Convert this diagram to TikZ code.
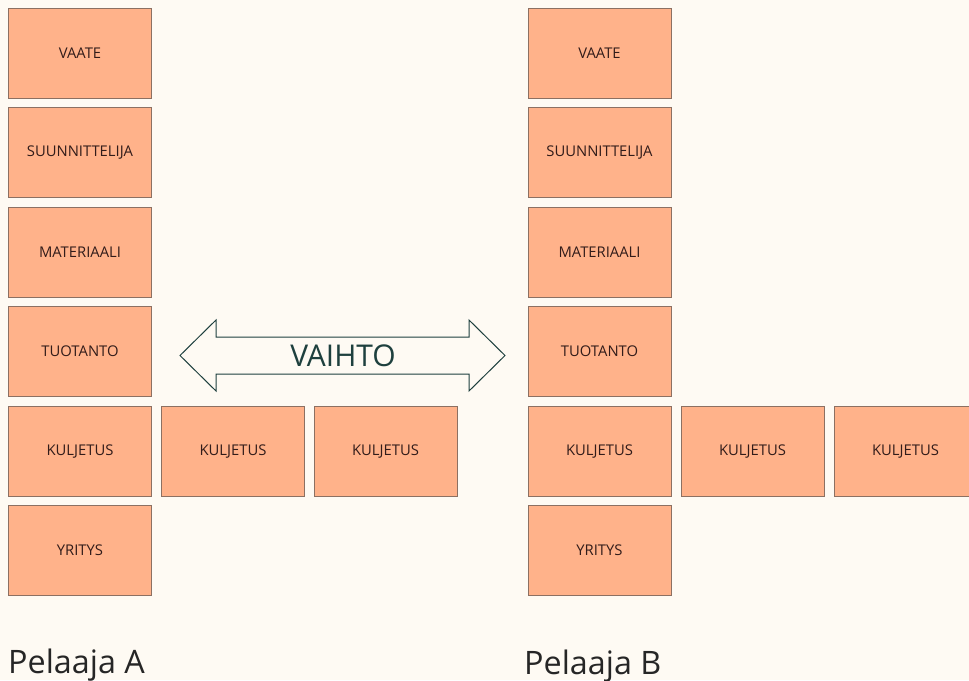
\documentclass[tikz,border=0pt]{standalone}
\usepackage{fontspec}
\setmainfont{Open Sans}
\usepackage{tikz}

\definecolor{tausta}{RGB}{254,250,243}
\definecolor{kortti}{RGB}{255,178,138}
\definecolor{reuna}{RGB}{140,112,98}
\definecolor{teksti}{RGB}{50,28,26}
\definecolor{nuoli}{RGB}{30,64,62}

\tikzset{
  korttibox/.style={draw=reuna, line width=0.9pt, fill=kortti,
    minimum width=143pt, minimum height=90pt, inner sep=0pt,
    text=teksti, font=\fontsize{14.8}{17}\selectfont},
  pelaaja/.style={anchor=base west, inner sep=0pt, text=black!85,
    font=\fontsize{32.3}{36}\selectfont}
}

\begin{document}
\begin{tikzpicture}[x=1pt, y=-1pt]
  \fill[tausta] (0,0) rectangle (969,680);
  \useasboundingbox (0,0) rectangle (969,680);
  \clip (0,0) rectangle (969,680);

  % pelaaja A
  \node[korttibox] (a1) at (80,53.5) {VAATE};
  \node[korttibox] (a2) at (80,152.9) {SUUNNITTELIJA};
  \node[korttibox] (a3) at (80,252.3) {MATERIAALI};
  \node[korttibox] (a4) at (80,351.7) {TUOTANTO};
  \node[korttibox] (a5) at (80,451.1) {KULJETUS};
  \node[korttibox] (a6) at (80,550.5) {YRITYS};
  \node[korttibox] (a7) at (233,451.1) {KULJETUS};
  \node[korttibox] (a8) at (385.5,451.1) {KULJETUS};

  % pelaaja B
  \node[korttibox] (b1) at (599.5,53.5) {VAATE};
  \node[korttibox] (b2) at (599.5,152.9) {SUUNNITTELIJA};
  \node[korttibox] (b3) at (599.5,252.3) {MATERIAALI};
  \node[korttibox] (b4) at (599.5,351.7) {TUOTANTO};
  \node[korttibox] (b5) at (599.5,451.1) {KULJETUS};
  \node[korttibox] (b6) at (599.5,550.5) {YRITYS};
  \node[korttibox] (b7) at (752.5,451.1) {KULJETUS};
  \node[korttibox] (b8) at (905.5,451.1) {KULJETUS};

  % vaihto
  \draw[nuoli, line width=1pt, line join=miter]
    (180,355.5) -- (216,320) -- (216,337) -- (469,337) -- (469,320)
    -- (505,355.5) -- (469,391) -- (469,374) -- (216,374) -- (216,391) -- cycle;
  \node[text=nuoli, font=\fontsize{30}{33}\selectfont, anchor=base]
    (vaihto) at (343,366) {VAIHTO};

  \node[pelaaja] (pa) at (8,673) {Pelaaja A};
  \node[pelaaja] (pb) at (524,674) {Pelaaja B};
\end{tikzpicture}
\end{document}
